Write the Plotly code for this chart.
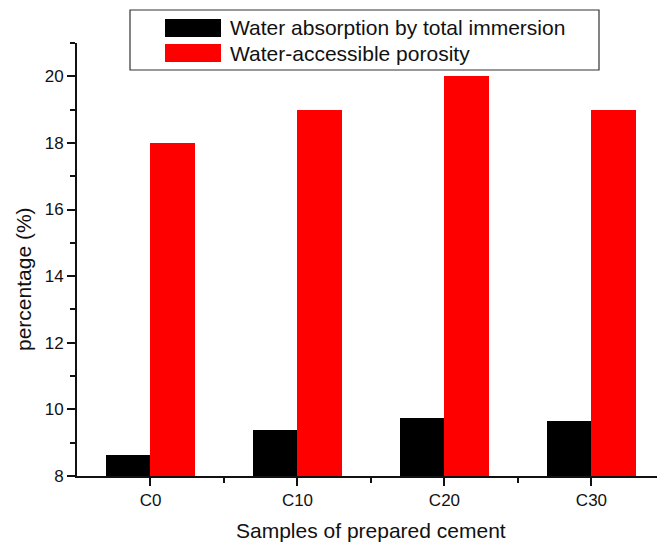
import plotly.graph_objects as go

categories = ["C0", "C10", "C20", "C30"]
absorption = [8.62, 9.38, 9.74, 9.64]
porosity = [18.0, 19.0, 20.0, 19.0]
names = ["Water absorption by total immersion", "Water-accessible porosity"]
colors = ["#000000", "#ff0000"]
x_title = "Samples of prepared cement"
y_title = "percentage (%)"

xpos = list(range(len(categories)))
FONT = "Liberation Sans, Arial, sans-serif"

fig = go.Figure()
fig.add_trace(go.Bar(x=[p - 0.15 for p in xpos], y=absorption, width=0.3,
                     marker=dict(color=colors[0], line=dict(width=0)), name=names[0],
                     base=0, showlegend=False))
fig.add_trace(go.Bar(x=[p + 0.15 for p in xpos], y=porosity, width=0.3,
                     marker=dict(color=colors[1], line=dict(width=0)), name=names[1],
                     base=0, showlegend=False))

# manual legend box (paper coordinates)
W, H = 657, 543
l, r, t, b = 77, 0, 43, 67
pw, ph = W - l - r, H - t - b
def px(x):
    return (x - l) / pw
def py(y):
    return (H - b - y) / ph

fig.add_shape(type="rect", xref="paper", yref="paper",
              x0=px(130), x1=px(599), y0=py(70), y1=py(10),
              line=dict(color="#333333", width=1.2), fillcolor="white")
for i, (nm, c) in enumerate(zip(names, colors)):
    y0, y1 = 19 + 25 * i, 37 + 25 * i
    fig.add_shape(type="rect", xref="paper", yref="paper",
                  x0=px(165), x1=px(221), y0=py(y1), y1=py(y0),
                  line=dict(width=0), fillcolor=c)
    fig.add_annotation(xref="paper", yref="paper", x=px(228), y=py((y0 + y1) / 2),
                       text=nm, showarrow=False, xanchor="left", yanchor="middle",
                       font=dict(family=FONT, size=21, color="#111111"))

# axis titles
fig.add_annotation(xref="paper", yref="paper", x=px(371), y=py(530), text=x_title,
                   showarrow=False, xanchor="center", yanchor="middle",
                   font=dict(family=FONT, size=21, color="#111111"))
fig.add_annotation(xref="paper", yref="paper", x=px(23), y=py(279), text=y_title,
                   showarrow=False, xanchor="center", yanchor="middle", textangle=-90,
                   font=dict(family=FONT, size=21, color="#111111"))

fig.update_layout(
    width=W, height=H,
    margin=dict(l=l, r=r, t=t, b=b),
    plot_bgcolor="white", paper_bgcolor="white",
    bargap=0, barmode="overlay",
    font=dict(family=FONT, size=16, color="#111111"),
    xaxis=dict(range=[-0.5, 3.446], tickvals=xpos, ticktext=categories,
               showline=True, linecolor="#111111", linewidth=2,
               ticks="outside", ticklen=8, tickwidth=1.5, tickcolor="#111111",
               minor=dict(tickvals=[0.5, 1.5, 2.5], ticks="outside", ticklen=5,
                          tickwidth=1.5, tickcolor="#111111"),
               showgrid=False, zeroline=False,
               tickfont=dict(size=17)),
    yaxis=dict(range=[8, 21], tickvals=[8, 10, 12, 14, 16, 18, 20],
               showline=True, linecolor="#111111", linewidth=2,
               ticks="outside", ticklen=8, tickwidth=1.5, tickcolor="#111111",
               minor=dict(tickvals=[9, 11, 13, 15, 17, 19, 21], ticks="outside", ticklen=5,
                          tickwidth=1.5, tickcolor="#111111"),
               showgrid=False, zeroline=False,
               tickfont=dict(size=17)),
)

fig.write_html("out.html")
